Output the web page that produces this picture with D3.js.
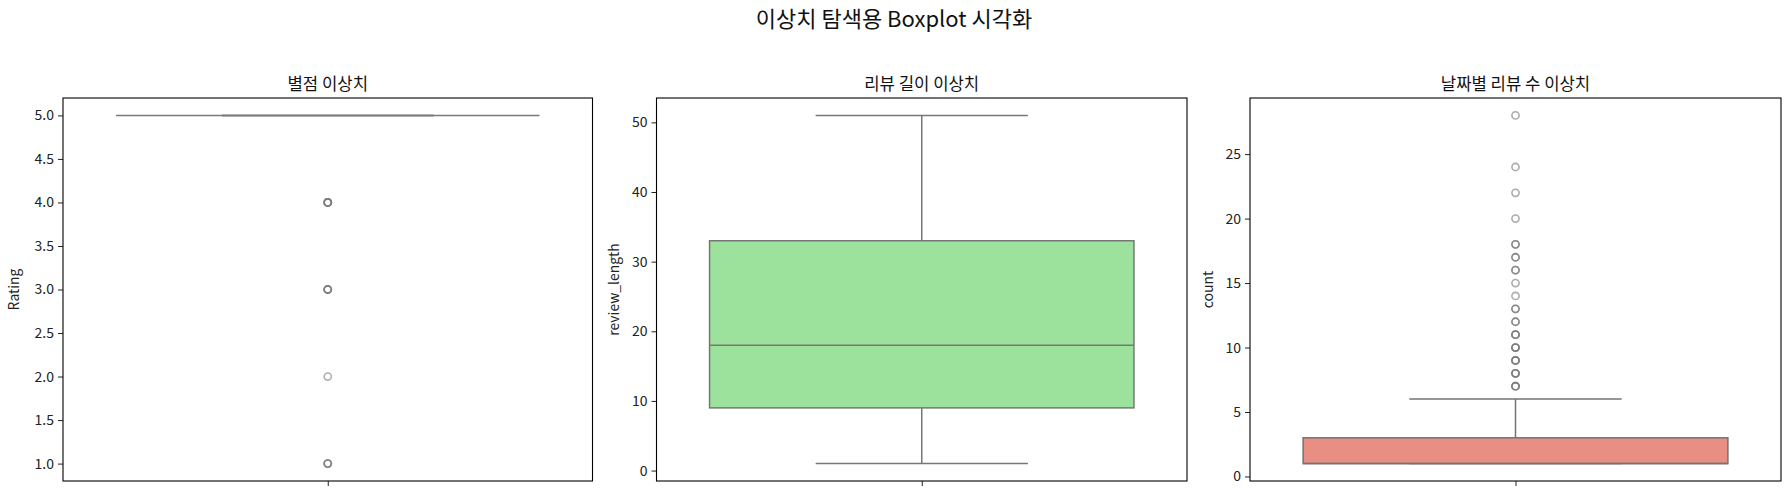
<!DOCTYPE html>
<html><head><meta charset="utf-8">
<script src="https://cdn.jsdelivr.net/npm/d3@7"></script>
<style>
body{margin:0;background:#fff;}
text{font-family:"Noto Sans CJK KR","Noto Sans",sans-serif;}
</style></head>
<body><svg id="c" width="1790" height="495"></svg>
<script>
// ---- data ----
const suptitle = "이상치 탐색용 Boxplot 시각화";
const titles = ["별점 이상치", "리뷰 길이 이상치", "날짜별 리뷰 수 이상치"];
const ylabels = ["Rating", "review_length", "count"];
// box stats: [whiskerLow, q1, median, q3, whiskerHigh]
const ratingStats = [5, 5, 5, 5, 5];
const lengthStats = [1, 9, 18, 33, 51];
const countStats = [1, 1, 1, 3, 6];
const ratingOutliers = [4, 4, 4, 4, 4, 3, 3, 3, 3, 2, 1, 1, 1];
const lengthOutliers = [];
const countOutliers = [7, 7, 7, 8, 8, 8, 9, 9, 9, 10, 10, 10, 11, 11, 11, 12, 12, 13, 13, 14, 15, 16, 16, 17, 17, 18, 18, 20, 22, 24, 28];
const ratingTicks = [1.0, 1.5, 2.0, 2.5, 3.0, 3.5, 4.0, 4.5, 5.0];
const lengthTicks = [0, 10, 20, 30, 40, 50];
const countTicks = [0, 5, 10, 15, 20, 25];
const yDomains = [[0.8, 5.2], [-1.5, 53.5], [-0.35, 29.35]];
const fills = ["#9ac3d6", "#9ce29c", "#e98e83"];
const lineColors = ["#7a7a7a", "#777777", "#737373"];

const panels = [
  {title: titles[0], ylabel: ylabels[0], stats: ratingStats, out: ratingOutliers, ticks: ratingTicks, fmt: d3.format(".1f"), dom: yDomains[0], fill: fills[0], lc: lineColors[0], x0: 63, x1: 592.5, labOff: 49},
  {title: titles[1], ylabel: ylabels[1], stats: lengthStats, out: lengthOutliers, ticks: lengthTicks, fmt: d3.format("d"), dom: yDomains[1], fill: fills[1], lc: lineColors[1], x0: 656.5, x1: 1187, labOff: 42},
  {title: titles[2], ylabel: ylabels[2], stats: countStats, out: countOutliers, ticks: countTicks, fmt: d3.format("d"), dom: yDomains[2], fill: fills[2], lc: lineColors[2], x0: 1250, x1: 1781, labOff: 42}
];
const plotTop = 98, plotBottom = 481;

const svg = d3.select("#c");
svg.append("text").attr("x", 894).attr("y", 27).attr("text-anchor", "middle")
  .attr("font-size", 22).attr("fill", "#111").text(suptitle);

panels.forEach(p => {
  const g = svg.append("g");
  const y = d3.scaleLinear().domain(p.dom).range([plotBottom, plotTop]);
  const x = d3.scaleLinear().domain([-0.5, 0.5]).range([p.x0, p.x1]);
  const [wl, q1, med, q3, wh] = p.stats;
  const lw = 1.5;
  // whiskers
  g.append("line").attr("x1", x(0)).attr("x2", x(0)).attr("y1", y(q3)).attr("y2", y(wh)).attr("stroke", p.lc).attr("stroke-width", lw);
  g.append("line").attr("x1", x(0)).attr("x2", x(0)).attr("y1", y(q1)).attr("y2", y(wl)).attr("stroke", p.lc).attr("stroke-width", lw);
  // caps
  [wl, wh].forEach(v => g.append("line").attr("x1", x(-0.2)).attr("x2", x(0.2)).attr("y1", y(v)).attr("y2", y(v)).attr("stroke", p.lc).attr("stroke-width", lw));
  // box
  g.append("rect").attr("x", x(-0.4)).attr("width", x(0.4) - x(-0.4))
    .attr("y", y(q3)).attr("height", Math.max(0, y(q1) - y(q3)))
    .attr("fill", p.fill).attr("stroke", p.lc).attr("stroke-width", lw);
  // median
  g.append("line").attr("x1", x(-0.4)).attr("x2", x(0.4)).attr("y1", y(med)).attr("y2", y(med)).attr("stroke", p.lc).attr("stroke-width", lw);
  // outliers (overlapping duplicates accumulate darker, as in the reference)
  g.selectAll("circle.o").data(p.out).join("circle").attr("class", "o")
    .attr("cx", x(0)).attr("cy", d => y(d)).attr("r", 3.6)
    .attr("fill", "none").attr("stroke", p.lc).attr("stroke-width", 1.6).attr("stroke-opacity", 0.6);
  // axes
  const ya = d3.axisLeft(y).tickValues(p.ticks).tickFormat(p.fmt).tickSize(5).tickPadding(4);
  const yg = g.append("g").attr("transform", `translate(${p.x0},0)`).call(ya);
  yg.select(".domain").remove();
  yg.selectAll("text").attr("font-size", 14).attr("fill", "#222").attr("font-family", '"Noto Sans CJK KR","Noto Sans",sans-serif');
  yg.selectAll("line").attr("stroke", "#222").attr("stroke-width", 1);
  const xa = d3.axisBottom(x).tickValues([0]).tickFormat("").tickSize(5);
  const xg = g.append("g").attr("transform", `translate(0,${plotBottom})`).call(xa);
  xg.select(".domain").remove();
  xg.selectAll("line").attr("stroke", "#222").attr("stroke-width", 1);
  // frame
  g.append("rect").attr("x", p.x0).attr("y", plotTop).attr("width", p.x1 - p.x0).attr("height", plotBottom - plotTop)
    .attr("fill", "none").attr("stroke", "#000").attr("stroke-width", 1.1);
  // titles
  g.append("text").attr("x", (p.x0 + p.x1) / 2).attr("y", 90).attr("text-anchor", "middle")
    .attr("font-size", 16.7).attr("fill", "#111").text(p.title);
  g.append("text").attr("transform", `translate(${p.x0 - p.labOff},${(plotTop + plotBottom) / 2}) rotate(-90)`)
    .attr("text-anchor", "middle").attr("dy", "0.35em").attr("font-size", 13.9).attr("fill", "#222").text(p.ylabel);
});
</script></body></html>
